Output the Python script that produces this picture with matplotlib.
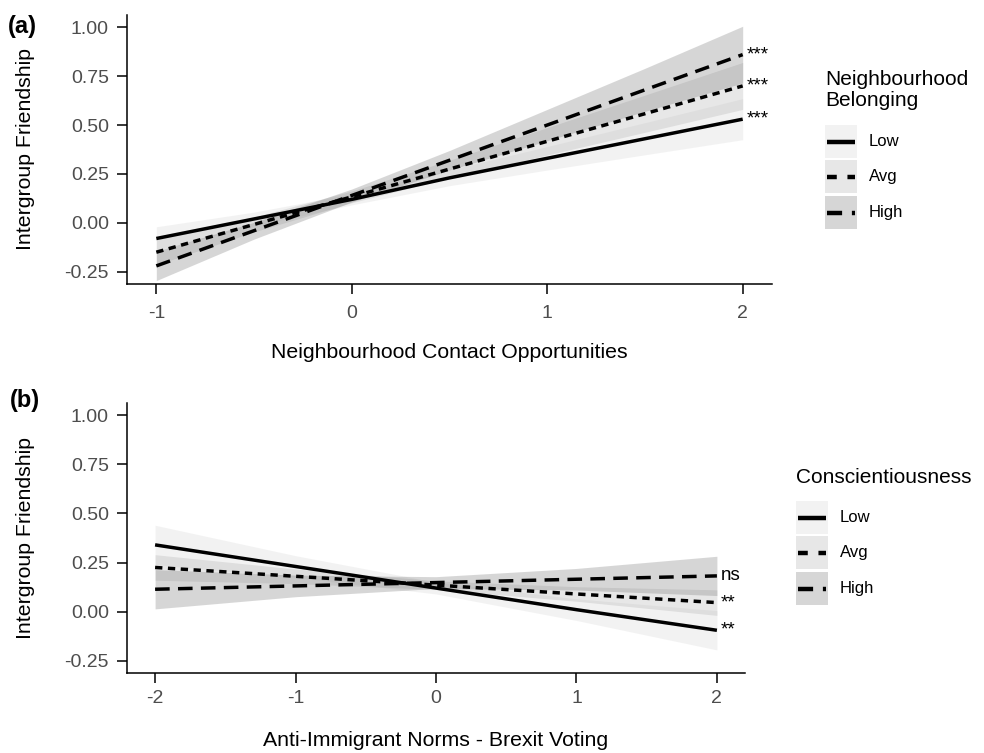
import numpy as np
import matplotlib
matplotlib.use("Agg")
import matplotlib.pyplot as plt
from matplotlib.lines import Line2D
from matplotlib.patches import Rectangle

plt.rcParams['font.family'] = ['Liberation Sans', 'DejaVu Sans']

# ---------------------------------------------
# data
# ---------------------------------------------
groups = ["Low", "Avg", "High"]

# (a) neighbourhood contact opportunities
a_x = [-1, -0.5, 0, 0.5, 1, 1.5, 2]
a_fit = {
    "Low":  [-0.08, 0.02, 0.12, 0.23, 0.33, 0.43, 0.53],
    "Avg":  [-0.15, -0.008, 0.133, 0.275, 0.417, 0.558, 0.70],
    "High": [-0.22, -0.04, 0.14, 0.32, 0.50, 0.68, 0.86],
}
a_lower = {
    "Low":  [-0.14, -0.015, 0.092, 0.19, 0.27, 0.348, 0.425],
    "Avg":  [-0.215, -0.046, 0.103, 0.23, 0.347, 0.463, 0.58],
    "High": [-0.295, -0.083, 0.107, 0.27, 0.42, 0.57, 0.715],
}
a_upper = {
    "Low":  [-0.02, 0.055, 0.148, 0.27, 0.39, 0.512, 0.635],
    "Avg":  [-0.085, 0.03, 0.163, 0.32, 0.487, 0.653, 0.82],
    "High": [-0.145, 0.003, 0.173, 0.37, 0.58, 0.79, 1.005],
}
a_sig = {"Low": "***", "Avg": "***", "High": "***"}

# (b) anti-immigrant norms
b_x = [-2, -1, 0, 1, 2]
b_fit = {
    "Low":  [0.34, 0.23, 0.12, 0.01, -0.095],
    "Avg":  [0.225, 0.18, 0.135, 0.09, 0.046],
    "High": [0.114, 0.131, 0.148, 0.165, 0.182],
}
b_lower = {
    "Low":  [0.24, 0.175, 0.09, -0.045, -0.195],
    "Avg":  [0.16, 0.143, 0.113, 0.053, -0.019],
    "High": [0.014, 0.076, 0.118, 0.11, 0.082],
}
b_upper = {
    "Low":  [0.44, 0.285, 0.15, 0.065, 0.005],
    "Avg":  [0.29, 0.217, 0.157, 0.127, 0.111],
    "High": [0.214, 0.186, 0.178, 0.22, 0.282],
}
b_sig = {"Low": "**", "Avg": "**", "High": "ns"}

y_ticks = [-0.25, 0.00, 0.25, 0.50, 0.75, 1.00]

# styles
fills = {"Low": "#d6d6d6", "Avg": "#b0b0b0", "High": "#7a7a7a"}
fill_alpha = 0.30
dashes = {"Low": None, "Avg": (2.1, 1.6), "High": (4.2, 2.4)}
key_dashes = {"Low": None, "Avg": (2.2, 2.4), "High": (3.4, 2.2)}
lw = 2.5
W, H = 984, 753


def draw_panel(ax, xs, fit, lower, upper, sig, xlabel, xlim, xticks,
               xpad, xlab_y, ylab_x):
    # confidence ribbons first, then the fitted lines on top
    for g in groups:
        ax.fill_between(xs, lower[g], upper[g], color=fills[g], alpha=fill_alpha,
                        linewidth=0)
    for g in groups:
        ln, = ax.plot(xs, fit[g], color="black", lw=lw, solid_capstyle="butt",
                      dash_capstyle="butt")
        if dashes[g] is not None:
            ln.set_dashes(dashes[g])
        ax.annotate(sig[g], xy=(xs[-1], fit[g][-1]), xytext=(3, 0),
                    textcoords="offset points", ha="left", va="center",
                    fontsize=13.5, color="black")

    ax.set_xlim(*xlim)
    ax.set_ylim(-0.3125, 1.0625)
    ax.set_xticks(xticks)
    ax.set_xticklabels([str(t) for t in xticks])
    ax.set_yticks(y_ticks)
    ax.set_yticklabels(["%.2f" % t for t in y_ticks])
    for s in ["top", "right"]:
        ax.spines[s].set_visible(False)
    for s in ["left", "bottom"]:
        ax.spines[s].set_linewidth(1.1)
    ax.tick_params(direction="out", length=7, width=1.1, color="black",
                   labelcolor="#4d4d4d", labelsize=14)
    ax.tick_params(axis="x", pad=xpad)
    ax.tick_params(axis="y", pad=6)
    ax.set_xlabel(xlabel, fontsize=15.3, va="top")
    ax.xaxis.set_label_coords(0.5, xlab_y)
    ax.set_ylabel("Intergroup Friendship", fontsize=15.3)
    ax.yaxis.set_label_coords(ylab_x, 0.5)


def add_legend(title, x_px, title_top_px, row_tops):
    # hand-built ggplot-style legend: grey key squares with a line across
    fig.text(x_px / W, 1 - title_top_px / H, title, fontsize=15, va="top",
             ha="left", linespacing=1.12)
    kw, kh = 32, 33
    for g, top in zip(groups, row_tops):
        fig.add_artist(Rectangle((x_px / W, 1 - (top + kh) / H), kw / W, kh / H,
                                 transform=fig.transFigure, facecolor=fills[g],
                                 alpha=fill_alpha, edgecolor="none"))
        yc = 1 - (top + kh / 2) / H
        ln = Line2D([(x_px + 2) / W, (x_px + kw - 2) / W], [yc, yc],
                    transform=fig.transFigure, color="black", lw=3.2,
                    solid_capstyle="butt", dash_capstyle="butt")
        if key_dashes[g] is not None:
            ln.set_dashes(key_dashes[g])
        fig.add_artist(ln)
        fig.text((x_px + kw + 12) / W, yc, g, fontsize=12, va="center",
                 ha="left", color="black")


fig = plt.figure(figsize=(W / 100, H / 100), dpi=100)

# panel (a)
ax_a = fig.add_axes([127 / W, 1 - 284 / H, (772 - 127) / W, (284 - 15) / H])
draw_panel(ax_a, a_x, a_fit, a_lower, a_upper, a_sig,
           "Neighbourhood Contact Opportunities", (-1.15, 2.15), [-1, 0, 1, 2],
           xpad=8, xlab_y=-(343 - 284) / 269, ylab_x=(35 - 127) / 645)
add_legend("Neighbourhood\nBelonging", 825, 70, [125, 160, 196])

# panel (b)
ax_b = fig.add_axes([127 / W, 1 - 673 / H, (745 - 127) / W, (673 - 403) / H])
draw_panel(ax_b, b_x, b_fit, b_lower, b_upper, b_sig,
           "Anti-Immigrant Norms - Brexit Voting", (-2.2, 2.2), [-2, -1, 0, 1, 2],
           xpad=5, xlab_y=-(731 - 673) / 270, ylab_x=(35 - 127) / 618)
add_legend("Conscientiousness", 796, 468, [501, 536, 572])

fig.text(8 / W, 1 - 27 / H, "(a)", fontsize=17, fontweight="bold", va="center")
fig.text(10 / W, 1 - 400 / H, "(b)", fontsize=17, fontweight="bold", va="center")

fig.savefig("out.png", dpi=100)
